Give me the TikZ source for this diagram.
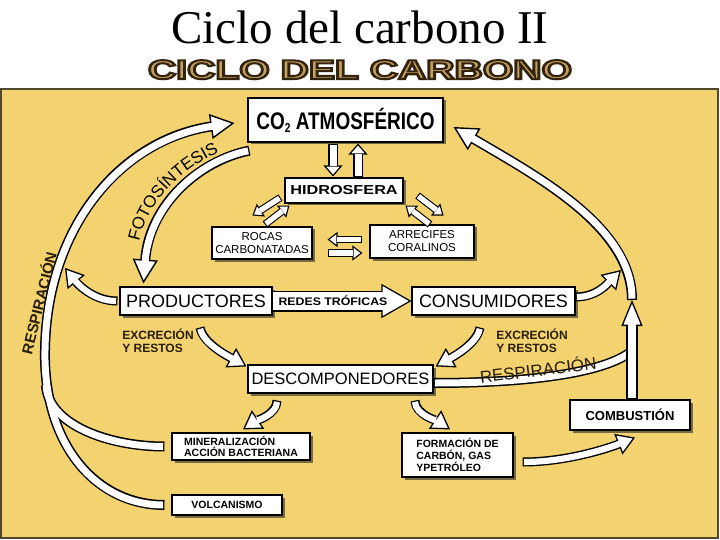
\documentclass[tikz,border=0pt]{standalone}
\usepackage{graphicx}
\usepackage{fontspec}
\setmainfont{Liberation Sans}
\newfontfamily\seriff{Liberation Serif}
\usetikzlibrary{arrows.meta,shadows,calc,decorations.text}
\definecolor{panel}{RGB}{243,210,112}
\definecolor{panelline}{RGB}{80,72,45}
\definecolor{headfill}{RGB}{196,160,98}
\definecolor{labelc}{RGB}{40,30,10}
\newcommand\fs[1]{\fontsize{#1}{#1}\selectfont}
\newcommand\fss[2]{\fontsize{#1}{#2}\selectfont}
\newcommand\fotofont{\fontsize{17}{17}\selectfont}
\newcommand\fat[3]{\draw[#1] #3; \draw[#2] #3;}
\tikzset{
 box/.style={draw=black, line width=1.1pt, fill=white, inner sep=0pt,
   drop shadow={shadow xshift=2.5pt, shadow yshift=-2.5pt, opacity=0.6, fill=black!85}},
 lbl/.style={text=labelc, inner sep=0pt},
 Lo/.style={draw=black, line width=10pt},
 Li/.style={draw=white, line width=7pt, shorten <=1.3pt},
 LTo/.style={Lo, -{Triangle[length=24pt,width=25pt,fill=white,line width=1.4pt]}},
 LTi/.style={Li, shorten >=22pt},
 Mo/.style={draw=black, line width=9pt},
 Mi/.style={draw=white, line width=6.2pt, shorten <=1.3pt},
 MTo/.style={Mo, -{Triangle[length=18pt,width=22pt,fill=white,line width=1.3pt]}},
 MTi/.style={Mi, shorten >=16.5pt},
 Uo/.style={draw=black, line width=11.5pt, -{Triangle[length=26pt,width=21pt,fill=white,line width=1.3pt]}},
 Ui/.style={draw=white, line width=8.3pt, shorten <=1.3pt, shorten >=24pt},
 Vo/.style={draw=black, line width=10pt, -{Triangle[length=11pt,width=19pt,fill=white,line width=1.2pt]}},
 Vi/.style={draw=white, line width=7pt, shorten <=1.2pt, shorten >=10pt},
 So/.style={draw=black, line width=7.5pt, -{Triangle[length=10pt,width=15pt,fill=white,line width=1.1pt]}},
 Si/.style={draw=white, line width=5.3pt, shorten <=1.1pt, shorten >=9pt},
 Ro/.style={draw=black, line width=21pt, -{Triangle[length=30pt,width=34pt,fill=white,line width=1.2pt]}},
 Ri/.style={draw=white, line width=18.6pt, shorten >=28pt},
}
\begin{document}
\begin{tikzpicture}[x=1pt,y=-1pt]
\useasboundingbox (0,0) rectangle (720,540);
\fill[white] (0,0) rectangle (720,540);
% title
\node[anchor=base, font=\seriff\fs{47}, inner sep=0pt] (title) at (360,44) {Ciclo del carbono II};
% heading (filled and outlined text)
\node[anchor=base, text=headfill, font=\bfseries\fs{27}, inner sep=0pt] (head) at (360,79)
  {\scalebox{1.45}[1]{\special{pdf:literal direct 2 Tr 2 w 0.2 0.14 0.06 RG}CICLO DEL CARBONO\special{pdf:literal direct 0 Tr}}};
% panel
\draw[panelline, line width=2pt, fill=panel] (1,89.5) rectangle (717.5,537.5);

% boxes
\node[box, minimum width=195pt, minimum height=44pt] (co2) at (345.5,120)
  {\scalebox{0.79}[1]{\bfseries\fs{24}CO\raisebox{-3pt}{\fs{13}2} ATMOSFÉRICO}};
\node[box, minimum width=118pt, minimum height=25pt] (hidro) at (344,190.5)
  {\scalebox{1.25}[1]{\bfseries\fs{13}HIDROSFERA}};
\node[box, minimum width=100pt, minimum height=32pt, align=center, font=\fss{11.5}{13}] (rocas) at (262,243)
  {ROCAS\\CARBONATADAS};
\node[box, minimum width=104pt, minimum height=33pt, align=center, font=\fss{11.5}{13}] (arrec) at (422,241.5)
  {ARRECIFES\\CORALINOS};
\node[box, minimum width=152pt, minimum height=28pt, font=\fs{18}] (prod) at (196,301) {PRODUCTORES};
\node[box, minimum width=163pt, minimum height=28pt, font=\fs{18}] (cons) at (493.5,301) {CONSUMIDORES};
\node[box, minimum width=185pt, minimum height=28pt, font=\fs{16.5}] (desc) at (340.5,379) {DESCOMPONEDORES};
\node[box, minimum width=138pt, minimum height=27pt, align=left, font=\bfseries\fss{10.5}{11.5}] (miner) at (241,446.5)
  {MINERALIZACIÓN\\ACCIÓN BACTERIANA};
\node[box, minimum width=110pt, minimum height=20pt, font=\bfseries\fs{10.5}] (volc) at (227,505) {VOLCANISMO};
\node[box, minimum width=111pt, minimum height=44pt, align=left, font=\bfseries\fss{10.5}{12}] (form) at (457.5,455)
  {FORMACIÓN DE\\CARBÓN, GAS\\YPETRÓLEO};
\node[box, minimum width=120pt, minimum height=30pt, font=\bfseries\fs{13}] (comb) at (630,415) {COMBUSTIÓN};

% CO2 <-> hidrosfera
\fat{Vo}{Vi}{($(co2.south)+(-12.5,1)$) -- ($(hidro.north)+(-11,-1)$)}
\fat{Vo}{Vi}{($(hidro.north)+(14,0)$) -- ($(co2.south)+(12.5,1)$)}
% hidrosfera <-> rocas
\fat{So}{Si}{($(hidro.south west)+(-4,-6)$) -- ($(hidro.south west)+(-32,12)$)}
\fat{So}{Si}{($(rocas.north)+(3,-2)$) -- ($(hidro.south west)+(5,2)$)}
% hidrosfera <-> arrecifes
\fat{So}{Si}{($(hidro.south east)+(14,-8)$) -- ($(hidro.south east)+(40,12)$)}
\fat{So}{Si}{($(arrec.north)+(8,0)$) -- ($(hidro.south east)+(2,2)$)}
% rocas <-> arrecifes
\fat{So}{Si}{($(arrec.west)+(-7,-2)$) -- ($(rocas.east)+(15,-3.5)$)}
\fat{So}{Si}{($(rocas.east)+(15,10)$) -- ($(arrec.west)+(-7,11.5)$)}

% redes troficas
\fat{Ro}{Ri}{(prod.east) -- (cons.west)}
\node[font=\bfseries\fs{11}, inner sep=0pt] (redes) at (333,300.5) {\scalebox{1.12}[1]{REDES TRÓFICAS}};

% to descomponedores
\fat{MTo}{MTi}{($(prod.south)+(4,12)$) .. controls +(3,16) and +(-18,-10) .. ($(desc.north west)+(-1,2)$)}
\fat{MTo}{MTi}{($(cons.south)+(-13.5,12)$) .. controls +(-3,16) and +(18,-10) .. ($(desc.north east)+(2,2)$)}
% from descomponedores
\fat{MTo}{MTi}{($(desc.south)+(-63.5,7)$) .. controls +(0,14) and +(12,-8) .. ($(miner.north)+(2,-3)$)}
\fat{MTo}{MTi}{($(desc.south)+(74.5,7)$) .. controls +(0,14) and +(-12,-8) .. ($(form.north)+(-7.5,-3)$)}
% formacion -> combustion
\fat{MTo}{MTi}{($(form.east)+(9,7)$) .. controls +(45,0) and +(-25,10) .. ($(comb.south)+(5,7)$)}

% right side
\coordinate (rj) at (632,300);
\coordinate (vj) at (633,350);
\draw[LTo] (rj) .. controls +(0,-74) and +(81,48) .. ($(co2.east)+(10,7)$);
\draw[Lo] ($(desc.east)+(0,4)$) .. controls +(100,0) and +(-25,22) .. (vj);
\draw[LTi] (rj) .. controls +(0,-74) and +(81,48) .. ($(co2.east)+(10,7)$);
\draw[Li] ($(desc.east)+(0,4)$) .. controls +(100,0) and +(-25,22) .. (vj);
\fat{Uo}{Ui}{($(comb.north)+(2,0)$) -- (rj)}
\fat{MTo}{MTi}{($(cons.east)+(0,-4)$) .. controls +(22,0) and +(-12,12) .. (621,270)}

% left side
\coordinate (lj) at (45,360);
\coordinate (mj) at (46,385);
\coordinate (pj) at (65,268);
\draw[LTo] ($(volc.west)+(-7,0)$) .. controls +(-65,0) and +(2,90) .. (lj)
   .. controls +(-2,-130) and +(-115,17) .. ($(co2.west)+(-13,3)$);
\draw[Lo] ($(miner.west)+(-7,0)$) .. controls +(-55,0) and +(2,40) .. (mj);
\draw[LTi] ($(volc.west)+(-7,0)$) .. controls +(-65,0) and +(2,90) .. (lj)
   .. controls +(-2,-130) and +(-115,17) .. ($(co2.west)+(-13,3)$);
\draw[Li] ($(miner.west)+(-7,0)$) .. controls +(-55,0) and +(2,40) .. (mj);
\fat{MTo}{MTi}{($(prod.west)+(-2,0)$) .. controls +(-25,0) and +(12,15) .. (pj)}

% fotosintesis
\fat{LTo}{LTi}{($(co2.south west)+(2,8)$) .. controls +(-50,10) and +(6,-79) .. ($(prod.north west)+(24,-3)$)}
\path[decorate, decoration={text along path, text={|\fotofont|FOTOSÍNTESIS}, text align=center}]
  (137,258) .. controls (140,206) and (180,166) .. (234,146);

% labels
\node[lbl, align=left, font=\bfseries\fss{12}{13}] (exl) at (158,341) {EXCRECIÓN\\Y RESTOS};
\node[lbl, align=left, font=\bfseries\fss{12}{13}] (exr) at (532,341) {EXCRECIÓN\\Y RESTOS};
\node[lbl, font=\bfseries\fs{15}, rotate=76] (respl) at (38,303) {RESPIRACIÓN};
\node[lbl, font=\fs{17}, rotate=7] (respr) at (538,369) {RESPIRACIÓN};
\end{tikzpicture}
\end{document}
